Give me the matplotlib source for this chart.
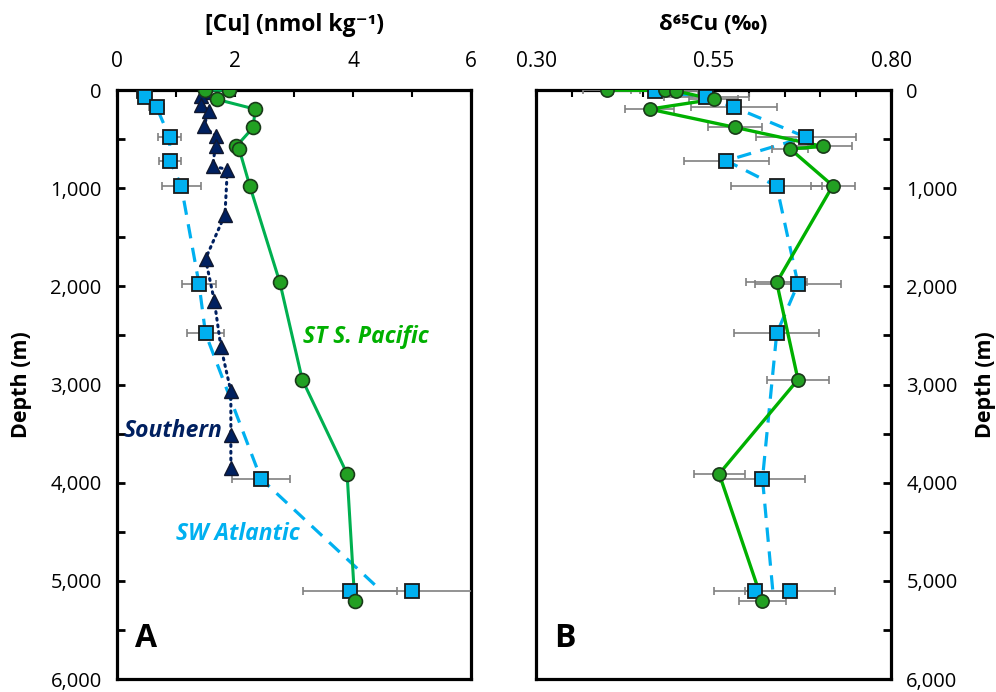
import numpy as np
import matplotlib
matplotlib.use("Agg")
import matplotlib.pyplot as plt
from matplotlib.ticker import FixedLocator, FuncFormatter

plt.rcParams['font.family'] = ['Open Sans', 'DejaVu Sans']

# ---------------- data ----------------
# ST S. Pacific (green circles)
pac_depth_A = [0, 5, 95, 195, 380, 575, 600, 975, 1960, 2950, 3910, 5210]
pac_cu = [1.49, 1.90, 1.69, 2.34, 2.31, 2.02, 2.07, 2.25, 2.76, 3.14, 3.90, 4.03]

pac_depth_B = [0, 5, 10, 95, 195, 380, 575, 600, 975, 1960, 2950, 3910, 5210]
pac_d65 = [0.400, 0.481, 0.497, 0.550, 0.460, 0.580, 0.704, 0.658, 0.718,
           0.639, 0.669, 0.558, 0.619]
pac_d65_err = [0.034, 0.035, 0.035, 0.035, 0.035, 0.038, 0.041, 0.025, 0.031,
               0.043, 0.044, 0.036, 0.033]

# SW Atlantic (blue squares)
atl_depth = [15, 75, 175, 480, 720, 980, 1975, 2480, 3960, 5100, 5100]
atl_cu = [0.45, 0.48, 0.67, 0.89, 0.90, 1.09, 1.39, 1.50, 2.44, 3.95, 5.00]
atl_cu_err = [0.0, 0.0, 0.13, 0.19, 0.18, 0.33, 0.28, 0.32, 0.49, 0.80, 1.05]
atl_d65 = [0.468, 0.540, 0.579, 0.680, 0.568, 0.639, 0.669, 0.639, 0.619, 0.609, 0.658]
atl_d65_err = [0.060, 0.060, 0.060, 0.070, 0.060, 0.064, 0.060, 0.060, 0.060, 0.058, 0.063]

# Southern Ocean (navy triangles)
so_depth = [20, 65, 150, 210, 370, 470, 570, 775, 810, 1270, 1720, 2150, 2615, 3070, 3510, 3855]
so_cu = [1.48, 1.42, 1.43, 1.56, 1.47, 1.68, 1.67, 1.62, 1.87, 1.83, 1.50, 1.65, 1.76, 1.93, 1.93, 1.93]

# tick labels
cu_ticks = [0, 1, 2, 3, 4, 5, 6]
cu_labels = ['0', '', '2', '', '4', '', '6']
d65_ticks = [0.30, 0.35, 0.40, 0.45, 0.50, 0.55, 0.60, 0.65, 0.70, 0.75, 0.80]
d65_labels = ['0.30', '', '', '', '', '0.55', '', '', '', '', '0.80']
depth_ticks = [0, 1000, 2000, 3000, 4000, 5000, 6000]
depth_minor = [500, 1500, 2500, 3500, 4500, 5500]

# ---------------- style ----------------
GREEN_A = '#00B050'
GREEN_B = '#00B000'
GREEN_FILL = '#22A022'
BLUE = '#00B0F0'
NAVY = '#002060'
GREY = '#808080'

fig = plt.figure(figsize=(9.96, 6.92), dpi=100)
W, H = 996, 692
TOP, BOT = 90, 679
axA = fig.add_axes([117 / W, (H - BOT) / H, 354 / W, (BOT - TOP) / H])
axB = fig.add_axes([536 / W, (H - BOT) / H, 355 / W, (BOT - TOP) / H])


def blue_line(x):
    x = np.asarray(x, float)
    return np.concatenate([x[:-2], [x[-2:].mean()]])


atl_line_depth = blue_line(atl_depth)

# ---- Panel A ----
axA.plot(blue_line(atl_cu), atl_line_depth, color=BLUE, lw=2.3,
         dashes=(4.5, 3), zorder=2)
axA.errorbar(atl_cu, atl_depth, xerr=atl_cu_err, fmt='none', ecolor=GREY,
             elinewidth=1.2, capsize=3, capthick=1.2, zorder=3)
axA.plot(atl_cu, atl_depth, ls='none', marker='s', ms=9.5, mfc=BLUE,
         mec='#1a1a1a', mew=1.3, zorder=5)

axA.plot(so_cu, so_depth, color=NAVY, lw=2.2, ls=(0, (0.6, 1.6)),
         dash_capstyle='round', zorder=4)
axA.plot(so_cu, so_depth, ls='none', marker='^', ms=10, mfc=NAVY,
         mec='#101830', mew=1.0, zorder=6)

axA.plot(pac_cu, pac_depth_A, color=GREEN_A, lw=2.2, zorder=4)
axA.plot(pac_cu, pac_depth_A, ls='none', marker='o', ms=10, mfc=GREEN_FILL,
         mec='#1a3a1a', mew=1.2, zorder=7)

axA.set_xlim(0, 6)
axA.xaxis.set_major_locator(FixedLocator(cu_ticks))
axA.set_xticklabels(cu_labels)

axA.text(4.22, 2512, 'ST S. Pacific', color=GREEN_B, fontsize=16.5,
         fontweight='bold', style='italic', ha='center', va='center')
axA.text(0.95, 3478, 'Southern', color=NAVY, fontsize=16.5,
         fontweight='bold', style='italic', ha='center', va='center')
axA.text(2.05, 4526, 'SW Atlantic', color=BLUE, fontsize=16.5,
         fontweight='bold', style='italic', ha='center', va='center')
axA.text(0.05, 0.04, 'A', transform=axA.transAxes, fontsize=23,
         fontweight='bold', ha='left', va='bottom')

# ---- Panel B ----
axB.plot(blue_line(atl_d65), atl_line_depth, color=BLUE, lw=2.3,
         dashes=(4.5, 3), zorder=2)
axB.errorbar(atl_d65, atl_depth, xerr=atl_d65_err, fmt='none', ecolor=GREY,
             elinewidth=1.2, capsize=3, capthick=1.2, zorder=3)
axB.errorbar(pac_d65, pac_depth_B, xerr=pac_d65_err, fmt='none', ecolor=GREY,
             elinewidth=1.2, capsize=3, capthick=1.2, zorder=3)
axB.plot(atl_d65, atl_depth, ls='none', marker='s', ms=9.5, mfc=BLUE,
         mec='#1a1a1a', mew=1.3, zorder=5)
axB.plot(pac_d65, pac_depth_B, color=GREEN_B, lw=2.4, zorder=4)
axB.plot(pac_d65, pac_depth_B, ls='none', marker='o', ms=9.5, mfc=GREEN_FILL,
         mec='#1a3a1a', mew=1.2, zorder=7)

axB.set_xlim(0.30, 0.80)
axB.xaxis.set_major_locator(FixedLocator(d65_ticks))
axB.set_xticklabels(d65_labels)
axB.text(0.05, 0.04, 'B', transform=axB.transAxes, fontsize=23,
         fontweight='bold', ha='left', va='bottom')

fmt = FuncFormatter(lambda v, p: f'{int(round(v)):,}')
for ax in (axA, axB):
    ax.set_ylim(6000, 0)
    ax.xaxis.tick_top()
    ax.tick_params(axis='x', which='both', direction='in', length=5, width=1.5,
                   labelsize=15, pad=13)
    ax.yaxis.set_major_locator(FixedLocator(depth_ticks))
    ax.yaxis.set_minor_locator(FixedLocator(depth_minor))
    ax.yaxis.set_major_formatter(fmt)
    for s in ax.spines.values():
        s.set_linewidth(2.3)
        s.set_color('black')

axA.tick_params(axis='y', which='both', direction='in', length=6, width=2,
                labelsize=14.5, pad=11, left=True, right=False)
axB.yaxis.tick_right()
axB.tick_params(axis='y', which='both', direction='in', length=6, width=2,
                labelsize=14.5, pad=11, left=False, right=True)

fig.text(294 / W, 1 - 25 / H, '[Cu] (nmol kg\u207b\u00b9)', fontsize=16.5,
         fontweight='bold', ha='center', va='center')
fig.text(713.5 / W, 1 - 25 / H, '\u03b4\u2076\u2075Cu (\u2030)', fontsize=16,
         fontweight='bold', ha='center', va='center')
fig.text(22 / W, 1 - 385 / H, 'Depth (m)', fontsize=15.5, fontweight='bold',
         rotation=90, ha='center', va='center')
fig.text(985 / W, 1 - 385 / H, 'Depth (m)', fontsize=15.5, fontweight='bold',
         rotation=90, ha='center', va='center')

fig.savefig('out.png', dpi=100)
